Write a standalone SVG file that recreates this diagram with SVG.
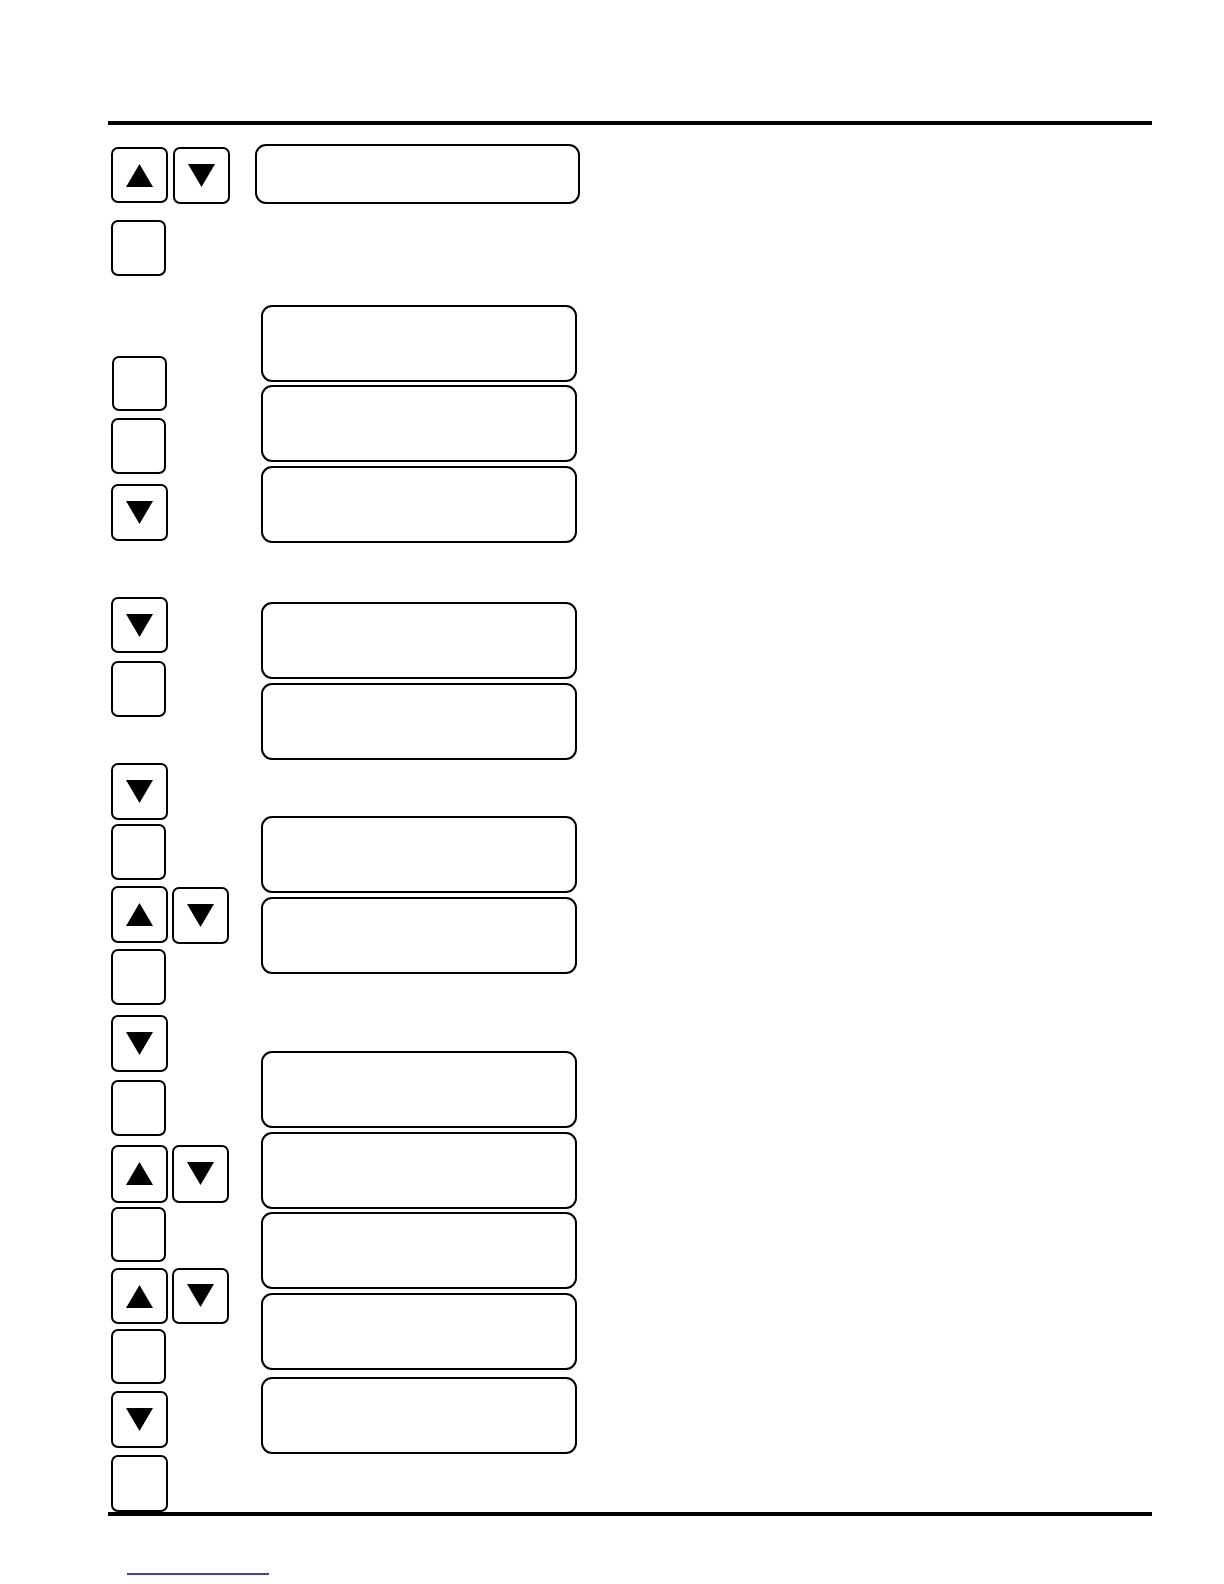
<svg xmlns="http://www.w3.org/2000/svg" width="1224" height="1584" viewBox="0 0 1224 1584">
<style>
.btn{fill:#fff;stroke:#000;stroke-width:2}
.box{fill:#fff;stroke:#000;stroke-width:2}
.tri{fill:#000}
</style>
<defs>
<path id="up" class="tri" d="M15,40 L42,40 L28.5,17 Z"/>
<path id="dn" class="tri" d="M15,17 L42,17 L28.5,40 Z"/>
</defs>
<rect width="1224" height="1584" fill="#fff"/>
<rect id="rule-top" x="108" y="121" width="1044" height="4" fill="#000"/>
<rect id="rule-bottom" x="108" y="1512" width="1044" height="4" fill="#000"/>
<line id="link" x1="127" y1="1574" x2="269" y2="1574" stroke="#000099" stroke-width="1.5"/>

<g id="buttons">
<g id="b1"><rect class="btn" x="112" y="148" width="55" height="54" rx="6"/><use href="#up" x="111" y="147"/></g>
<g id="b2"><rect class="btn" x="174" y="148" width="55" height="55" rx="6"/><use href="#dn" x="173" y="147"/></g>
<g id="b3"><rect class="btn" x="112" y="221" width="53" height="54" rx="6"/></g>
<g id="b4"><rect class="btn" x="113" y="357" width="53" height="53" rx="6"/></g>
<g id="b5"><rect class="btn" x="112" y="419" width="53" height="54" rx="6"/></g>
<g id="b6"><rect class="btn" x="112" y="485" width="55" height="55" rx="6"/><use href="#dn" x="111" y="484"/></g>
<g id="b7"><rect class="btn" x="112" y="598" width="55" height="54" rx="6"/><use href="#dn" x="111" y="597"/></g>
<g id="b8"><rect class="btn" x="112" y="662" width="53" height="54" rx="6"/></g>
<g id="b9"><rect class="btn" x="112" y="764" width="55" height="55" rx="6"/><use href="#dn" x="111" y="763"/></g>
<g id="b10"><rect class="btn" x="112" y="825" width="53" height="54" rx="6"/></g>
<g id="b11"><rect class="btn" x="112" y="887" width="55" height="55" rx="6"/><use href="#up" x="111" y="886"/></g>
<g id="b12"><rect class="btn" x="173" y="888" width="55" height="55" rx="6"/><use href="#dn" x="172" y="887"/></g>
<g id="b13"><rect class="btn" x="112" y="950" width="53" height="54" rx="6"/></g>
<g id="b14"><rect class="btn" x="112" y="1016" width="55" height="55" rx="6"/><use href="#dn" x="111" y="1015"/></g>
<g id="b15"><rect class="btn" x="112" y="1081" width="53" height="54" rx="6"/></g>
<g id="b16"><rect class="btn" x="112" y="1146" width="55" height="56" rx="6"/><use href="#up" x="111" y="1145"/></g>
<g id="b17"><rect class="btn" x="173" y="1146" width="55" height="56" rx="6"/><use href="#dn" x="172" y="1145"/></g>
<g id="b18"><rect class="btn" x="112" y="1208" width="53" height="53" rx="6"/></g>
<g id="b19"><rect class="btn" x="112" y="1269" width="55" height="54" rx="6"/><use href="#up" x="111" y="1268"/></g>
<g id="b20"><rect class="btn" x="173" y="1269" width="55" height="54" rx="6"/><use href="#dn" x="172" y="1267"/></g>
<g id="b21"><rect class="btn" x="112" y="1330" width="53" height="53" rx="6"/></g>
<g id="b22"><rect class="btn" x="112" y="1392" width="55" height="55" rx="6"/><use href="#dn" x="111" y="1391"/></g>
<g id="b23"><rect class="btn" x="112" y="1456" width="55" height="55" rx="6"/></g>
</g>

<g id="displays">
<g id="d1"><rect class="box" x="256" y="145" width="323" height="58" rx="10"/></g>
<g id="d2"><rect class="box" x="262" y="306" width="314" height="75" rx="10"/></g>
<g id="d3"><rect class="box" x="262" y="386" width="314" height="75" rx="10"/></g>
<g id="d4"><rect class="box" x="262" y="467" width="314" height="75" rx="10"/></g>
<g id="d5"><rect class="box" x="262" y="603" width="314" height="75" rx="10"/></g>
<g id="d6"><rect class="box" x="262" y="684" width="314" height="75" rx="10"/></g>
<g id="d7"><rect class="box" x="262" y="817" width="314" height="75" rx="10"/></g>
<g id="d8"><rect class="box" x="262" y="898" width="314" height="75" rx="10"/></g>
<g id="d9"><rect class="box" x="262" y="1052" width="314" height="75" rx="10"/></g>
<g id="d10"><rect class="box" x="262" y="1133" width="314" height="75" rx="10"/></g>
<g id="d11"><rect class="box" x="262" y="1213" width="314" height="75" rx="10"/></g>
<g id="d12"><rect class="box" x="262" y="1294" width="314" height="75" rx="10"/></g>
<g id="d13"><rect class="box" x="262" y="1378" width="314" height="75" rx="10"/></g>
</g>

<g id="connectors"></g>
</svg>
